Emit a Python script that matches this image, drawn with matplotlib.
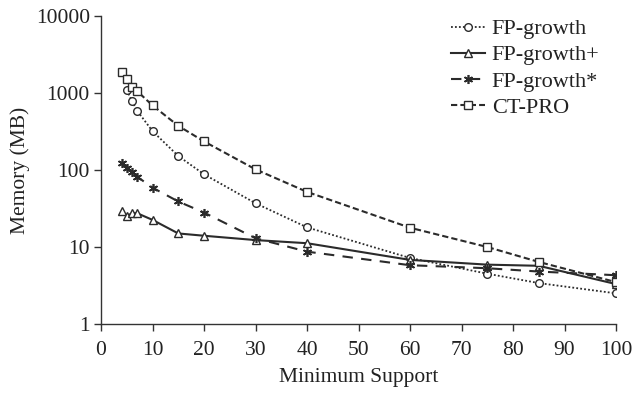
import matplotlib
matplotlib.use("Agg")
import matplotlib.pyplot as plt

plt.rcParams['font.family'] = ['Liberation Serif', 'DejaVu Serif']

# Data (Minimum Support vs Memory MB)
x_fpg = [5, 6, 7, 10, 15, 20, 30, 40, 60, 75, 85, 100]
y_fpg = [1090, 790, 590, 320, 152, 88, 37, 18, 7.2, 4.5, 3.4, 2.5]

x_fpgp = [4, 5, 6, 7, 10, 15, 20, 30, 40, 60, 75, 85, 100]
y_fpgp = [29, 25, 27.5, 27.5, 22.5, 15, 14, 12.3, 11.2, 6.8, 5.9, 5.7, 3.3]

x_fpgs = [4, 5, 6, 7, 10, 15, 20, 30, 40, 60, 75, 85, 100]
y_fpgs = [125, 107, 94, 82, 59, 39, 28, 13, 8.7, 5.8, 5.3, 4.8, 4.3]

x_ct = [4, 5, 6, 7, 10, 15, 20, 30, 40, 60, 75, 85, 100]
y_ct = [1850, 1500, 1180, 1060, 690, 375, 235, 102, 52, 17.8, 10, 6.4, 3.5]

labels = ['FP-growth', 'FP-growth+', 'FP-growth*', 'CT-PRO']
xticks = [0, 10, 20, 30, 40, 50, 60, 70, 80, 90, 100]
yticks = [1, 10, 100, 1000, 10000]

fig = plt.figure(figsize=(6.34, 3.96), dpi=100)
ax = fig.add_axes([101 / 634, 1 - 324 / 396, 515 / 634, 308 / 396])

c = '#2b2b2b'
ms = 5.5
ax.plot(x_fpg, y_fpg, linestyle=(0, (1, 1.2)), color=c, lw=1.3, marker='o',
        ms=ms, mfc='white', mec=c, mew=1.0, label=labels[0])
ax.plot(x_fpgp, y_fpgp, linestyle='-', color=c, lw=1.5, marker='^',
        ms=ms, mfc='white', mec=c, mew=1.0, label=labels[1])
ax.plot(x_fpgs, y_fpgs, linestyle=(0, (5, 4)), color=c, lw=1.5, marker=(6, 2, 0),
        ms=ms + 1, mfc='white', mec=c, mew=1.2, label=labels[2])
ax.plot(x_ct, y_ct, linestyle=(0, (3, 1.5)), color=c, lw=1.5, marker='s',
        ms=ms, mfc='white', mec=c, mew=1.0, label=labels[3])

ax.set_yscale('log')
ax.set_xlim(0, 100)
ax.set_ylim(1, 10000)
ax.set_xticks(xticks)
ax.set_yticks(yticks)
ax.set_yticklabels([str(v) for v in yticks])
ax.minorticks_off()
ax.set_xticklabels([str(v) for v in xticks])

for s in ['top', 'right']:
    ax.spines[s].set_visible(False)
for s in ['left', 'bottom']:
    ax.spines[s].set_color('#333333')
    ax.spines[s].set_linewidth(1.0)
ax.tick_params(axis='both', direction='out', length=5, width=1.0, colors='#333333',
               labelsize=15.5, labelcolor='#222222', pad=3)
ax.tick_params(axis='x', pad=7)

ax.set_xlabel('Minimum Support', fontsize=15.5, color='#222222', labelpad=6)
ax.set_ylabel('Memory (MB)', fontsize=15.5, color='#222222', labelpad=4)

leg = ax.legend(loc='upper right', bbox_to_anchor=(0.985, 1.02), frameon=False,
                fontsize=16, handlelength=1.55, handletextpad=0.3,
                labelspacing=0.25, borderaxespad=0.0)
for t in leg.get_texts():
    t.set_color('#222222')

fig.savefig('out.png', dpi=100)
